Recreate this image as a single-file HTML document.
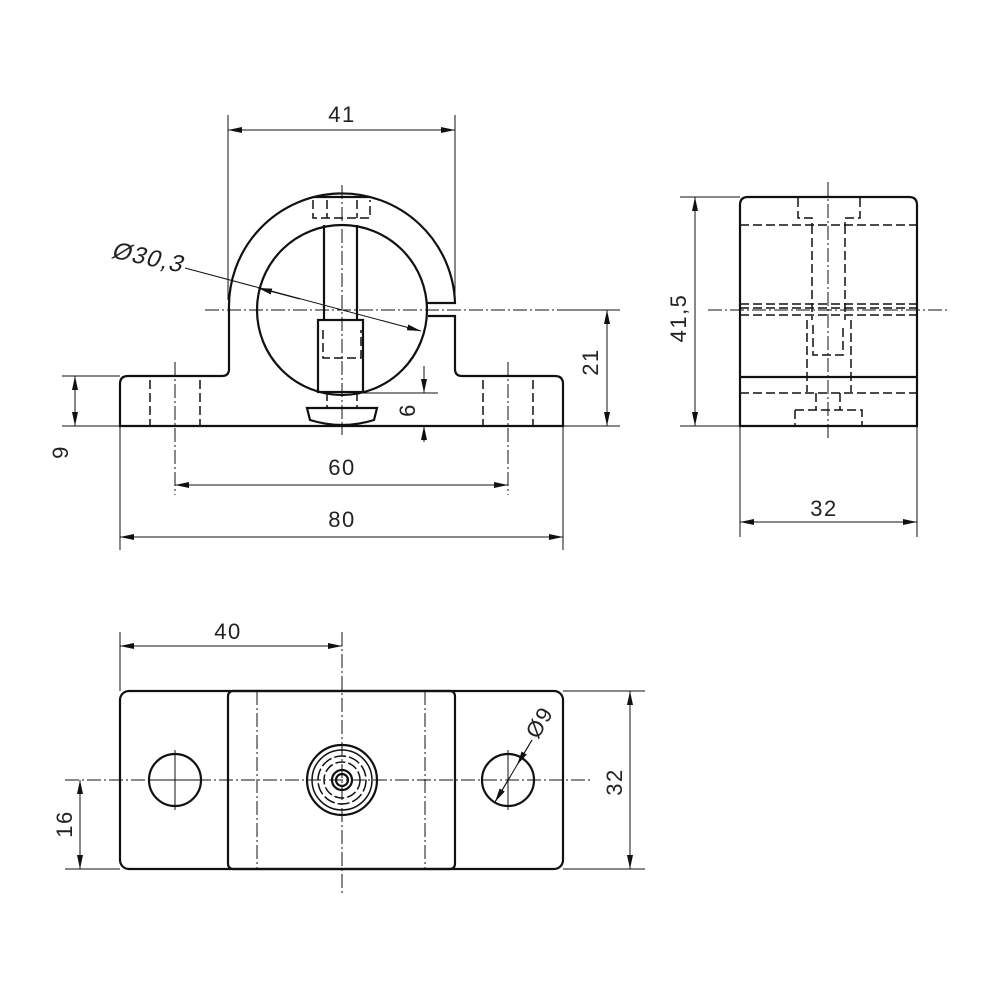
<!DOCTYPE html>
<html><head><meta charset="utf-8"><style>
html,body{margin:0;padding:0;background:#fff}
svg{display:block}
text{font-family:"Liberation Sans","DejaVu Sans",sans-serif;font-size:22px;fill:#222;letter-spacing:1.5px}
</style></head><body>
<svg width="1000" height="1000" viewBox="0 0 1000 1000" xmlns="http://www.w3.org/2000/svg">
<defs>
<marker id="a" viewBox="0 0 14 6" refX="14" refY="3" markerWidth="14" markerHeight="6" orient="auto-start-reverse" markerUnits="userSpaceOnUse"><path d="M0,0 L14,3 L0,6Z" fill="#111"/></marker>
</defs>
<g fill="none" stroke="#111">
<g stroke-width="1">
<g stroke-dasharray="14,3,2,3">
<line x1="205" y1="310" x2="620" y2="310"/>
<line x1="342" y1="185" x2="342" y2="435"/>
<line x1="175" y1="362" x2="175" y2="495"/>
<line x1="508" y1="362" x2="508" y2="495"/>
<line x1="708" y1="310" x2="950" y2="310"/>
<line x1="828" y1="182" x2="828" y2="440"/>
<line x1="65" y1="780" x2="590" y2="780"/>
<line x1="342" y1="632" x2="342" y2="895"/>
<line x1="257" y1="691" x2="257" y2="869"/>
<line x1="425" y1="691" x2="425" y2="869"/>
</g>
<line x1="175" y1="750" x2="175" y2="810"/><line x1="150" y1="780" x2="200" y2="780"/>
<line x1="508" y1="750" x2="508" y2="810"/>
<line x1="228" y1="115" x2="228" y2="300"/>
<line x1="455" y1="115" x2="455" y2="300"/>
<line x1="563" y1="310" x2="620" y2="310"/>
<line x1="563" y1="426" x2="620" y2="426"/>
<line x1="62" y1="376" x2="120" y2="376"/>
<line x1="62" y1="426" x2="120" y2="426"/>
<line x1="363" y1="393" x2="438" y2="393"/>
<line x1="120" y1="426" x2="120" y2="550"/>
<line x1="563" y1="426" x2="563" y2="550"/>
<line x1="680" y1="197" x2="740" y2="197"/>
<line x1="680" y1="426" x2="740" y2="426"/>
<line x1="740" y1="426" x2="740" y2="537"/>
<line x1="917" y1="426" x2="917" y2="537"/>
<line x1="120" y1="632" x2="120" y2="691"/>
<line x1="563" y1="691" x2="645" y2="691"/>
<line x1="563" y1="869" x2="645" y2="869"/>
<line x1="65" y1="869" x2="120" y2="869"/>
<line x1="228" y1="130" x2="455" y2="130" marker-start="url(#a)" marker-end="url(#a)"/>
<line x1="607" y1="310" x2="607" y2="426" marker-start="url(#a)" marker-end="url(#a)"/>
<line x1="75" y1="376" x2="75" y2="426" marker-start="url(#a)" marker-end="url(#a)"/>
<line x1="424" y1="366" x2="424" y2="393" marker-end="url(#a)"/>
<line x1="424" y1="442" x2="424" y2="426" marker-end="url(#a)"/>
<line x1="175" y1="485" x2="508" y2="485" marker-start="url(#a)" marker-end="url(#a)"/>
<line x1="120" y1="537" x2="563" y2="537" marker-start="url(#a)" marker-end="url(#a)"/>
<line x1="695" y1="197" x2="695" y2="426" marker-start="url(#a)" marker-end="url(#a)"/>
<line x1="740" y1="522" x2="917" y2="522" marker-start="url(#a)" marker-end="url(#a)"/>
<line x1="120" y1="646" x2="342" y2="646" marker-start="url(#a)" marker-end="url(#a)"/>
<line x1="630" y1="691" x2="630" y2="869" marker-start="url(#a)" marker-end="url(#a)"/>
<line x1="80" y1="780" x2="80" y2="869" marker-start="url(#a)" marker-end="url(#a)"/>
<line x1="185" y1="268" x2="421" y2="331" marker-end="url(#a)"/>
<line x1="300" y1="299" x2="258" y2="288" marker-end="url(#a)"/>
<line x1="532" y1="740" x2="517" y2="765" marker-end="url(#a)"/>
<line x1="510" y1="777" x2="495" y2="802" marker-end="url(#a)"/>
<line x1="532" y1="740" x2="495" y2="802"/>
</g>
<g stroke-width="1.5" stroke-dasharray="9,4">
<line x1="150" y1="380" x2="150" y2="426"/><line x1="200" y1="380" x2="200" y2="426"/>
<line x1="483" y1="380" x2="483" y2="426"/><line x1="533" y1="380" x2="533" y2="426"/>
<path d="M313,200 V218 H370 V200 M327,200 V218 M357,200 V218"/>
<path d="M323,330 V358 H361 V330"/>
<path d="M327,392 V408 M357,392 V408"/>
<line x1="740" y1="225" x2="917" y2="225"/>
<line x1="740" y1="304" x2="917" y2="304"/>
<line x1="740" y1="308" x2="917" y2="308"/>
<line x1="740" y1="315" x2="917" y2="315"/>
<line x1="740" y1="393" x2="917" y2="393"/>
<line x1="812" y1="225" x2="812" y2="320"/><line x1="845" y1="225" x2="845" y2="320"/>
<path d="M798,198 V218 H812 V225 M860,198 V218 H845 V225"/>
<path d="M807,320 V392 M851,320 V392 M813,325 V355 H843 V325"/>
<path d="M795,410 H862 V426 M795,410 V426 M816,393 V410 M840,393 V410"/>
</g>
<g stroke-width="2.2">
<path d="M428,316 H455 V369 Q455,376 462,376 H555 Q563,376 563,384 V426 H120 V384 Q120,376 128,376 H222 Q229,376 229,369 V310 A113,113 0 0 1 455,303 H427"/>
<circle cx="342" cy="310" r="85"/>
<line x1="324" y1="225" x2="324" y2="320"/><line x1="357" y1="225" x2="357" y2="320"/>
<rect x="318" y="320" width="45" height="72"/>
<line x1="313" y1="197" x2="370" y2="197"/>
<path d="M307,408 H377 L374,420 Q342,430 310,420Z"/>
<path d="M740,426 V205 Q740,197 748,197 H909 Q917,197 917,205 V426Z"/>
<line x1="740" y1="377" x2="917" y2="377"/>
<rect x="120" y="691" width="443" height="178" rx="9"/>
<rect x="228" y="691" width="227" height="178" rx="5"/>
<circle cx="175" cy="780" r="26"/>
<circle cx="508" cy="780" r="26"/>
<circle cx="342" cy="780" r="35"/>
<circle cx="342" cy="780" r="30" stroke-width="1.5"/>
<circle cx="342" cy="780" r="24" stroke-width="1.5" stroke-dasharray="12,3"/>
<circle cx="342" cy="780" r="18" stroke-width="1.5" stroke-dasharray="10,3"/>
<circle cx="342" cy="780" r="10"/>
<circle cx="342" cy="780" r="6"/>
</g>
</g>
<text x="342" y="122" text-anchor="middle">41</text>
<text x="342" y="475" text-anchor="middle">60</text>
<text x="342" y="527" text-anchor="middle">80</text>
<text x="824" y="516" text-anchor="middle">32</text>
<text x="228" y="639" text-anchor="middle">40</text>
<text transform="translate(598,362) rotate(-90)" text-anchor="middle">21</text>
<text transform="translate(415,410) rotate(-90)" text-anchor="middle">6</text>
<text transform="translate(68,452) rotate(-90)" text-anchor="middle">9</text>
<text transform="translate(686,318) rotate(-90)" text-anchor="middle">41,5</text>
<text transform="translate(622,782) rotate(-90)" text-anchor="middle">32</text>
<text transform="translate(72,824) rotate(-90)" text-anchor="middle">16</text>
<text transform="translate(146,265) rotate(12) skewX(-12)" text-anchor="middle" style="font-size:24px">Ø30,3</text>
<text transform="translate(546,726) rotate(-60)" text-anchor="middle">Ø9</text>
</svg>
</body></html>
